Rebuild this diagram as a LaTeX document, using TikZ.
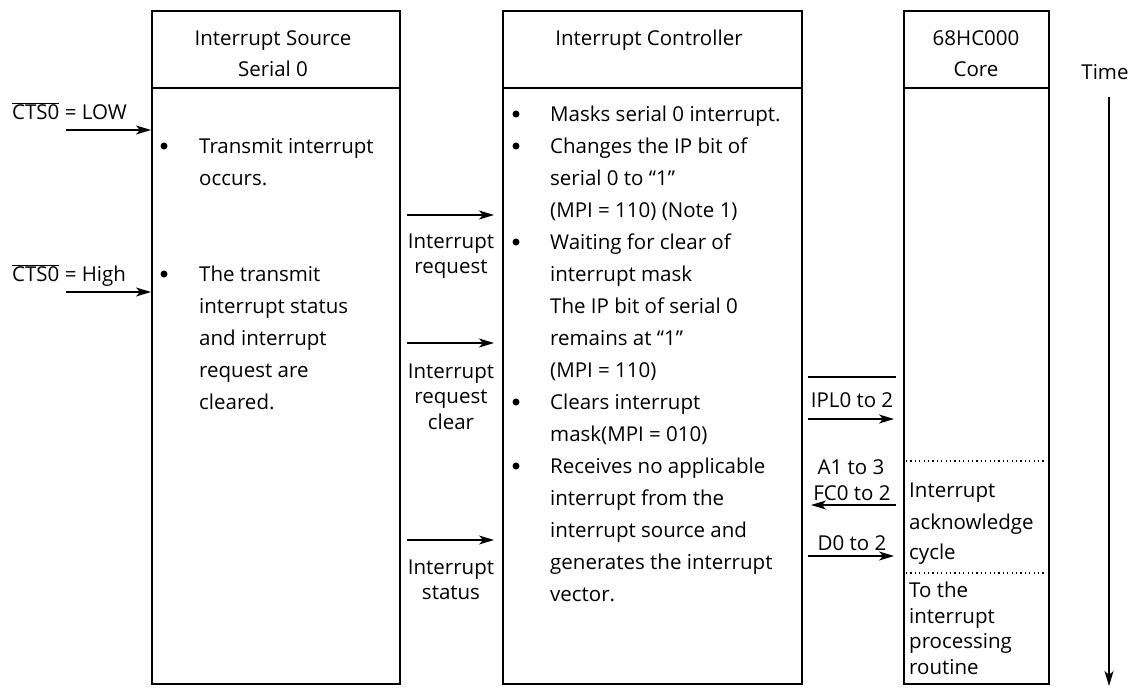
\documentclass[tikz,border=0pt]{standalone}
\usepackage{fontspec}
\setmainfont{Open Sans}
\usetikzlibrary{arrows.meta}
\begin{document}
\begin{tikzpicture}[x=1pt,y=-1pt,
  box/.style={draw, line width=1.5pt, inner sep=0pt, anchor=north west},
  txt/.style={font=\fontsize{20.5}{24}\selectfont, inner sep=0pt, anchor=base west},
  ctr/.style={font=\fontsize{20.5}{24}\selectfont, inner sep=0pt, anchor=base},
  arr/.style={-{Stealth[length=15pt,width=9pt,inset=4pt]}, line width=1.4pt},
  bul/.style={circle, fill=black, inner sep=0pt, minimum size=7pt},
  sep/.style={line width=1.2pt, dash pattern=on 1.2pt off 3.2pt},
]
\useasboundingbox (0,0) rectangle (1134,688);

% boxes
\node[box, minimum width=248pt, minimum height=673pt] (src) at (151,10) {};
\node[box, minimum width=299pt, minimum height=673pt] (ctl) at (502,10) {};
\node[box, minimum width=145pt, minimum height=673pt] (core) at (903,10) {};
\draw[line width=1.5pt] (src.west |- 0,88) -- (src.east |- 0,88);
\draw[line width=1.5pt] (ctl.west |- 0,88) -- (ctl.east |- 0,88);
\draw[line width=1.5pt] (core.west |- 0,88) -- (core.east |- 0,88);

% headers
\node[ctr] (h1a) at (273,45) {Interrupt Source};
\node[ctr] (h1b) at (273,76) {Serial 0};
\node[ctr] (h2) at (649,45) {Interrupt Controller};
\node[ctr] (h3a) at (976,45) {68HC000};
\node[ctr] (h3b) at (976,76) {Core};
\node[ctr] (time) at (1105,79) {Time};

% time arrow
\coordinate (t0) at (1109,97);
\coordinate (t1) at (1109,686);
\draw[arr] (t0) -- (t1);

% CTS inputs
\node[txt] (ctslow) at (12,119) {$\overline{\hbox{CTS0}}$ = LOW};
\node[txt] (ctshigh) at (12,281) {$\overline{\hbox{CTS0}}$ = High};
\coordinate (cl0) at (66,130);
\coordinate (ch0) at (66,292);
\draw[arr] (cl0) -- (src.west |- cl0);
\draw[arr] (ch0) -- (src.west |- ch0);

% source text
\node[bul] (sb1) at (164,146) {};
\node[bul] (sb2) at (164,274) {};
\foreach \t [count=\i from 0] in {Transmit interrupt, occurs.}
  \node[txt] (s1\i) at (199,153+32*\i) {\t};
\foreach \t [count=\i from 0] in {The transmit, interrupt status, and interrupt, request are, cleared.}
  \node[txt] (s2\i) at (199,281+32*\i) {\t};

% controller text
\foreach \yy [count=\i] in {114,146,242,402,466}
  \node[bul] (cb\i) at (516,\yy) {};
\foreach \t [count=\i from 0] in {Masks serial 0 interrupt., Changes the IP bit of, serial 0 to “1”, (MPI = 110) (Note 1), Waiting for clear of, interrupt mask, The IP bit of serial 0, remains at “1”, (MPI = 110), Clears interrupt, mask(MPI = 010), Receives no applicable, interrupt from the, interrupt source and, generates the interrupt, vector.}
  \node[txt] (c\i) at (550,121+32*\i) {\t};

% middle arrows and labels
\coordinate (m1s) at (407,215); \coordinate (m1e) at (494,215);
\coordinate (m2s) at (407,343); \coordinate (m2e) at (494,343);
\coordinate (m3s) at (407,540); \coordinate (m3e) at (494,540);
\draw[arr] (m1s) -- (m1e);
\draw[arr] (m2s) -- (m2e);
\draw[arr] (m3s) -- (m3e);
\node[ctr] (ir1) at (451,248) {Interrupt};
\node[ctr] (ir2) at (451,273) {request};
\node[ctr] (irc1) at (451,378) {Interrupt};
\node[ctr] (irc2) at (451,403) {request};
\node[ctr] (irc3) at (451,429) {clear};
\node[ctr] (is1) at (451,574) {Interrupt};
\node[ctr] (is2) at (451,599) {status};

% controller <-> core
\coordinate (ipo0) at (808,377); \coordinate (ipo1) at (896,377);
\draw[line width=1.3pt] (ipo0) -- (ipo1);
\node[ctr] (ipl) at (852,407) {IPL0 to 2};
\coordinate (ip0) at (808,419); \coordinate (ip1) at (894,419);
\draw[arr] (ip0) -- (ip1);
\node[ctr] (a13) at (851,474) {A1 to 3};
\node[ctr] (fc) at (852,500) {FC0 to 2};
\coordinate (fc0) at (896,505); \coordinate (fc1) at (811,505);
\draw[arr] (fc0) -- (fc1);
\node[ctr] (d02) at (852,550) {D0 to 2};
\coordinate (d0) at (808,556); \coordinate (d1) at (894,556);
\draw[arr] (d0) -- (d1);

% core text
\coordinate (dl1) at (906,461); \coordinate (dl2) at (906,573);
\draw[sep] (dl1) -- ([xshift=-3pt]core.east |- dl1);
\draw[sep] (dl2) -- ([xshift=-3pt]core.east |- dl2);
\node[txt] (k1) at (909,497) {Interrupt};
\node[txt] (k2) at (909,529) {acknowledge};
\node[txt] (k3) at (909,559) {cycle};
\node[txt] (k4) at (909,597) {To the};
\node[txt] (k5) at (909,623) {interrupt};
\node[txt] (k6) at (909,648) {processing};
\node[txt] (k7) at (909,674) {routine};
\end{tikzpicture}
\end{document}
